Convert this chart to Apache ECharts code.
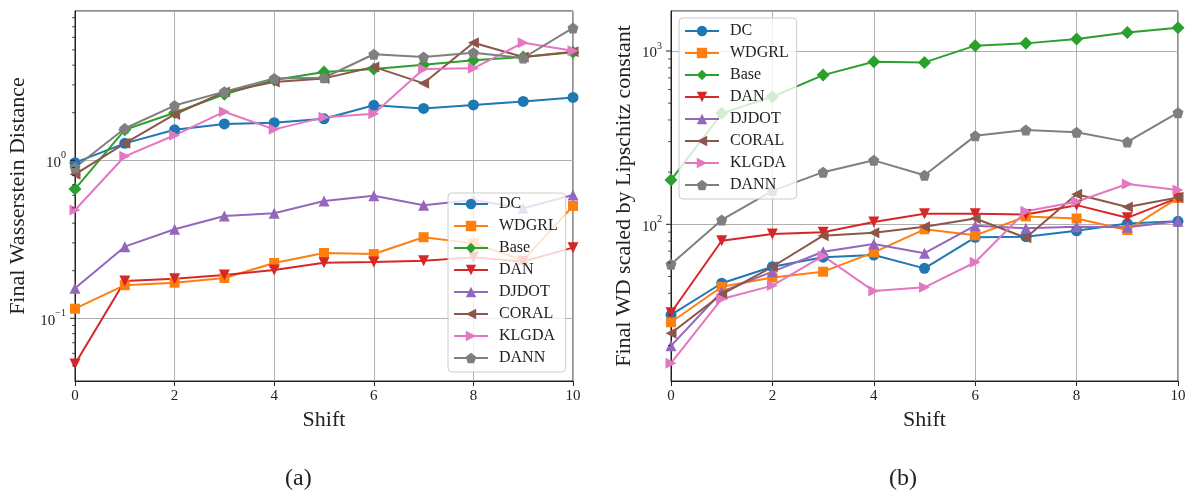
<!DOCTYPE html>
<html><head><meta charset="utf-8">
<script src="https://cdn.jsdelivr.net/npm/echarts@6/dist/echarts.min.js"></script>
<style>html,body{margin:0;padding:0;background:#fff}#c{width:1192px;height:497px}</style>
</head><body><div id="c"></div>
<script>
// ---------- data ----------
const shifts = [0,1,2,3,4,5,6,7,8,9,10];
const methods = ['DC','WDGRL','Base','DAN','DJDOT','CORAL','KLGDA','DANN'];

// (a) Final Wasserstein Distance
const wdDC    = [0.966,1.28,1.56,1.70,1.73,1.83,2.23,2.13,2.24,2.36,2.50];
const wdWDGRL = [0.115,0.162,0.168,0.180,0.224,0.259,0.255,0.326,0.298,0.233,0.514];
const wdBase  = [0.658,1.56,2.00,2.62,3.22,3.62,3.78,4.03,4.30,4.51,4.83];
const wdDAN   = [0.0514,0.172,0.178,0.188,0.202,0.225,0.227,0.231,0.243,0.229,0.280];
const wdDJDOT = [0.155,0.284,0.366,0.444,0.462,0.552,0.597,0.519,0.561,0.497,0.603];
const wdCORAL = [0.815,1.28,1.95,2.71,3.13,3.30,3.90,3.07,5.55,4.51,4.87];
const wdKLGDA = [0.485,1.06,1.44,2.03,1.57,1.87,1.97,3.78,3.82,5.55,4.93];
const wdDANN  = [0.90,1.59,2.22,2.72,3.30,3.33,4.69,4.51,4.80,4.44,6.88];

// (b) Final WD scaled by Lipschitz constant
const lipDC    = [30.0,45.7,56.9,64.6,66.5,55.7,84.1,84.9,91.8,101,104];
const lipWDGRL = [27.2,43.6,49.4,53.3,68.9,93.6,86.4,111,108,92.7,142];
const lipBase  = [180,437,545,726,867,860,1074,1107,1172,1281,1361];
const lipDAN   = [30.9,80.4,87.9,89.9,103,115,115,114,129,109,142];
const lipDJDOT = [19.9,40.8,53.3,69.5,76.9,68.1,98.2,94.8,96.9,96.1,104];
const lipCORAL = [23.5,39.4,56.9,86.0,89.5,96.9,108,83.7,149,126,143];
const lipKLGDA = [15.8,37.1,44.3,65.7,41.2,43.3,60.4,119,135,171,158];
const lipDANN  = [58.8,106,156,200,234,192,324,350,340,299,441];

const xTicks = [0,2,4,6,8,10];
const leftMajorTicks  = [0.1,1];
const leftMinorTicks  = [0.05,0.06,0.07,0.08,0.09,0.2,0.3,0.4,0.5,0.6,0.7,0.8,0.9,2,3,4,5,6,7,8];
const rightMajorTicks = [100,1000];
const rightMinorTicks = [20,30,40,50,60,70,80,90,200,300,400,500,600,700,800,900];
const leftRange  = [0.0401, 8.81];
const rightRange = [12.47, 1702];

const leftSeriesData  = [wdDC,wdWDGRL,wdBase,wdDAN,wdDJDOT,wdCORAL,wdKLGDA,wdDANN];
const rightSeriesData = [lipDC,lipWDGRL,lipBase,lipDAN,lipDJDOT,lipCORAL,lipKLGDA,lipDANN];

// ---------- styles ----------
const colors = ['#1f77b4','#ff7f0e','#2ca02c','#d62728','#9467bd','#8c564b','#e377c2','#7f7f7f'];
const pentagon = 'path://M0,-1 L0.951,-0.309 L0.588,0.809 L-0.588,0.809 L-0.951,-0.309 Z';
const symbols = ['circle','rect','diamond','triangle','triangle','triangle','triangle',pentagon];
const symRot  = [0,0,0,180,0,90,-90,0];
const symSize = [11,10,13,11,11,11,11,11];
const FONT = 'Liberation Serif';

function supLabel(v){
  const l = Math.log10(v), e = Math.round(l);
  if (Math.abs(l - e) > 1e-6) return '';
  return '{b|10}{s|' + (e < 0 ? '\u2212' + (-e) : e) + '}';
}
const supRich = {
  b:{fontFamily:FONT,fontSize:15,color:'#222',lineHeight:20,verticalAlign:'bottom'},
  s:{fontFamily:FONT,fontSize:10,color:'#222',lineHeight:20,verticalAlign:'top'}
};

function lineSeries(dataArr, gi){
  return dataArr.map((arr,i)=>({
    type:'line', name:methods[i], xAxisIndex:gi, yAxisIndex:gi,
    data: shifts.map((x,k)=>[x,arr[k]]),
    symbol:symbols[i], symbolRotate:symRot[i], symbolSize:symSize[i],
    showAllSymbol:true,
    lineStyle:{color:colors[i],width:2},
    itemStyle:{color:colors[i]},
    z:2, zlevel:0, animation:false
  }));
}
function tickSeries(major, minor, gi){
  const data = major.map(v=>[0,v,1]).concat(minor.map(v=>[0,v,0]));
  return {
    type:'custom', xAxisIndex:gi, yAxisIndex:gi, silent:true, z:20, animation:false,
    data:data,
    renderItem(params, api){
      const p = api.coord([api.value(0), api.value(1)]);
      const len = api.value(2) ? 5 : 3;
      return {type:'line', shape:{x1:p[0]-len,y1:p[1],x2:p[0],y2:p[1]},
        style:{stroke:'#222', lineWidth: api.value(2)?1:0.8}};
    }
  };
}
function xAxisCfg(gi){
  return {
    type:'value', gridIndex:gi, min:0, max:10, interval:2,
    name:'Shift', nameLocation:'middle', nameGap:28,
    nameTextStyle:{fontFamily:FONT,fontSize:22,color:'#222'},
    axisLine:{show:true,lineStyle:{color:'#222',width:1}},
    axisTick:{show:true,length:5,lineStyle:{color:'#222'}},
    axisLabel:{fontFamily:FONT,fontSize:15,color:'#222',margin:8,
      formatter:v=> xTicks.indexOf(v)>=0 ? String(v) : ''},
    splitLine:{show:true,lineStyle:{color:'#b0b0b0',width:1}}
  };
}
function yAxisCfg(gi, range, name, gap){
  return {
    type:'log', logBase:10, gridIndex:gi, min:range[0], max:range[1],
    name:name, nameLocation:'middle', nameGap:gap, nameRotate:90,
    nameTextStyle:{fontFamily:FONT,fontSize:22,color:'#222'},
    axisLine:{show:true,lineStyle:{color:'#222',width:1}},
    axisTick:{show:false},
    axisLabel:{margin:9, formatter:supLabel, rich:supRich, showMinLabel:false, showMaxLabel:false},
    splitLine:{show:true,lineStyle:{color:'#b0b0b0',width:1}}
  };
}
function legendCfg(left, top, pad){
  return {
    data:methods, orient:'vertical', left:left, top:top,
    itemWidth:34, itemHeight:13, itemGap:6,
    padding:pad, z:50, zlevel:0,
    backgroundColor:'rgba(255,255,255,0.8)', borderColor:'#cccccc', borderWidth:1, borderRadius:4,
    textStyle:{fontFamily:FONT,fontSize:16,color:'#222',padding:[0,0,0,6]},
    selectedMode:false
  };
}

const option = {
  animation:false,
  backgroundColor:'#fff',
  title:[
    {text:'(a)', left:280, top:462, textStyle:{fontFamily:FONT,fontSize:24,fontWeight:'normal',color:'#222'}},
    {text:'(b)', left:884, top:462, textStyle:{fontFamily:FONT,fontSize:24,fontWeight:'normal',color:'#222'}}
  ],
  grid:[
    {left:75, top:11, width:498, height:370, show:true, borderColor:'#222', borderWidth:1, backgroundColor:'transparent'},
    {left:671, top:11, width:507, height:370, show:true, borderColor:'#222', borderWidth:1, backgroundColor:'transparent'}
  ],
  xAxis:[xAxisCfg(0), xAxisCfg(1)],
  yAxis:[
    yAxisCfg(0, leftRange, 'Final Wasserstein Distance', 46),
    yAxisCfg(1, rightRange, 'Final WD scaled by Lipschitz constant', 36)
  ],
  legend:[
    legendCfg(448,193,[3,8,6,5]),
    legendCfg(679,18,[5,8,6,5])
  ],
  series:[].concat(
    lineSeries(leftSeriesData,0),
    lineSeries(rightSeriesData,1),
    [tickSeries(leftMajorTicks,leftMinorTicks,0), tickSeries(rightMajorTicks,rightMinorTicks,1)]
  )
};
const chart = echarts.init(document.getElementById('c'), null, {renderer:'canvas'});
chart.setOption(option);
</script>
</body></html>
